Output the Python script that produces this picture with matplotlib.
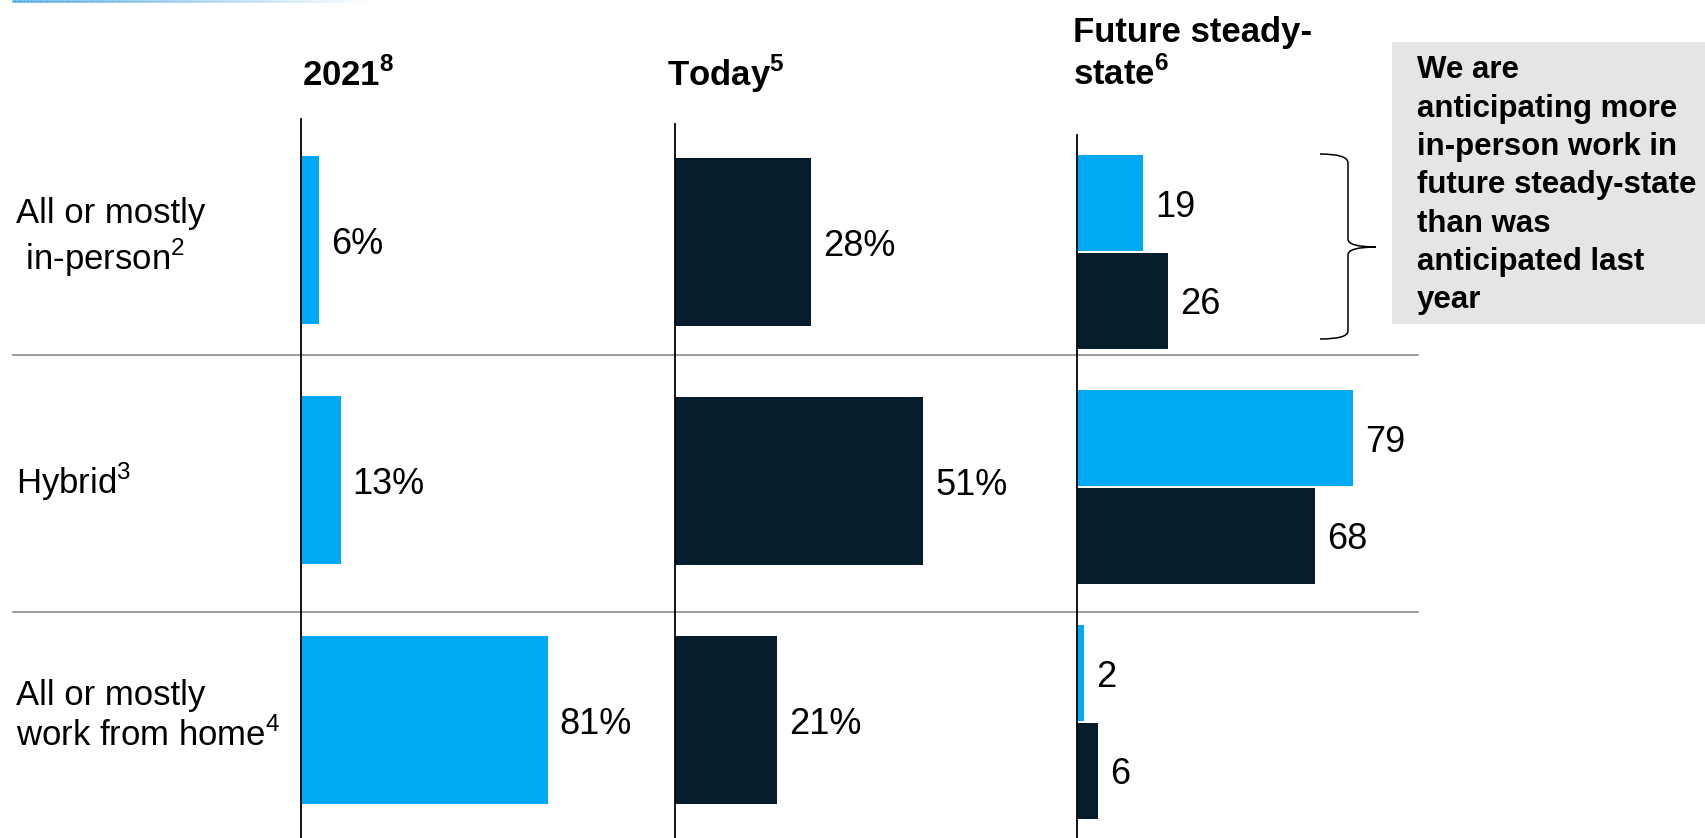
import numpy as np
import matplotlib.pyplot as plt
from matplotlib.collections import LineCollection
from matplotlib.path import Path
from matplotlib.patches import PathPatch, Rectangle

plt.rcParams['font.family'] = ['Liberation Sans', 'DejaVu Sans']
plt.rcParams['mathtext.fontset'] = 'custom'
plt.rcParams['mathtext.rm'] = 'Liberation Sans'
plt.rcParams['mathtext.bf'] = 'Liberation Sans:bold'

# work arrangement shares, % of respondents
rows = ['All or mostly\n in-person$^{2}$', 'Hybrid$^{3}$',
        'All or mostly\nwork from home$^{4}$']
share_2021 = [6, 13, 81]
share_today = [28, 51, 21]
# future steady-state: as anticipated in 2021 vs anticipated today
future_2021 = [19, 79, 2]
future_today = [26, 68, 6]

note_lines = ['We are', 'anticipating more', 'in-person work in',
              'future steady-state', 'than was', 'anticipated last', 'year']

LIGHT = '#00a9f4'
DARK = '#051c2c'

W, H = 1706, 838
fig = plt.figure(figsize=(W / 100, H / 100), dpi=100)

# overlay axes in pixel units for the frame, headers and callout
deco = fig.add_axes([0, 0, 1, 1])
deco.set_xlim(0, W)
deco.set_ylim(H, 0)
deco.axis('off')


def panel(left, right, top, px_per_pct, c0, pitch):
    ax = fig.add_axes([left / W, 0, (right - left) / W, (H - top) / H])
    ax.set_xlim(0, (right - left) / px_per_pct)
    ax.set_ylim((H - c0) / pitch, (top - c0) / pitch)
    ax.patch.set_alpha(0)
    for s in ['top', 'right', 'bottom']:
        ax.spines[s].set_visible(False)
    ax.spines['left'].set_linewidth(1.3)
    ax.spines['left'].set_color('black')
    ax.set_xticks([])
    ax.set_yticks([])
    return ax


def label(ax, vals, ys, fmt):
    for v, y in zip(vals, ys):
        ax.annotate(fmt % v, xy=(v, y), xytext=(8.5, -3), textcoords='offset points',
                    ha='left', va='center', fontsize=26)


y = np.arange(len(rows))

ax1 = panel(301, 675, 119, 3.05, 240, 240)
ax1.barh(y, share_2021, height=0.70, color=LIGHT)
label(ax1, share_2021, y, '%d%%')

ax2 = panel(675, 1077, 124, 4.87, 242, 239)
ax2.barh(y, share_today, height=0.70, color=DARK)
label(ax2, share_today, y, '%d%%')

ax3 = panel(1077, 1418, 135, 3.5, 252, 235)
ax3.barh(y - 0.207, future_2021, height=0.408, color=LIGHT)
ax3.barh(y + 0.207, future_today, height=0.408, color=DARK)
label(ax3, future_2021, y - 0.207, '%d')
label(ax3, future_today, y + 0.207, '%d')

# row separators
for sy in [355, 612]:
    deco.plot([13, 1418], [sy, sy], color='#8c8c8c', lw=1.2)

# row labels
for txt, cy in zip(rows, [238, 482, 716]):
    deco.text(16, cy, txt, fontsize=25, ha='left', va='center')

# column headers
hdr = dict(fontsize=25, fontweight='bold', ha='left', va='baseline')
deco.text(302, 86, '2021$^{\\mathbf{8}}$', **hdr)
deco.text(667, 86, 'Today$^{\\mathbf{5}}$', **hdr)
deco.text(1073, 42, 'Future steady-', **hdr)
deco.text(1073, 85, 'state$^{\\mathbf{6}}$', **hdr)

# callout box
deco.add_patch(Rectangle((1392, 42), W - 1392, 282, color='#e5e5e5', lw=0))
for i, line in enumerate(note_lines):
    deco.text(1417, 78.3 + 38.3 * i, line, fontsize=22.5, fontweight='bold',
              ha='left', va='baseline')

# curly brace linking the in-person future bars to the callout
verts = [(1320, 154), (1348, 154), (1348, 163), (1348, 239),
         (1348, 247), (1376, 247), (1348, 247), (1348, 255),
         (1348, 331), (1348, 339), (1320, 339)]
codes = [Path.MOVETO, Path.CURVE3, Path.CURVE3, Path.LINETO,
         Path.CURVE3, Path.CURVE3, Path.CURVE3, Path.CURVE3,
         Path.LINETO, Path.CURVE3, Path.CURVE3]
deco.add_patch(PathPatch(Path(verts, codes), fill=False, lw=1.1, color='black'))

# fading accent line along the top edge
xs = np.linspace(12, 370, 200)
segs = [[(xs[i], 1), (xs[i + 1], 1)] for i in range(len(xs) - 1)]
cols = np.zeros((len(segs), 4))
cols[:, :3] = (0.23, 0.62, 0.88)
cols[:, 3] = np.linspace(1, 0, len(segs))
deco.add_collection(LineCollection(segs, colors=cols, lw=1.8))

fig.savefig('out.png', dpi=100)
